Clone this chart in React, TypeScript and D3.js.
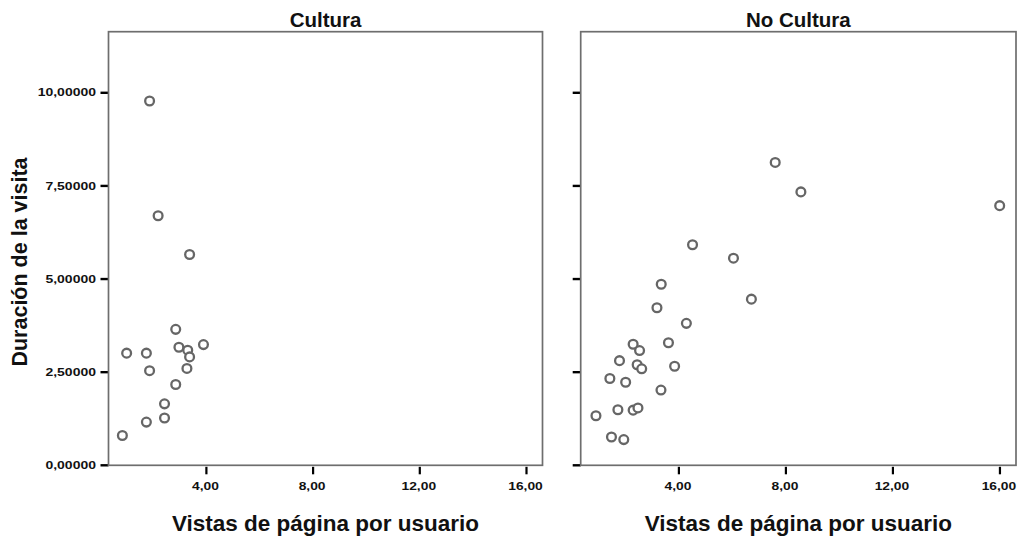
import React from "react";
import * as d3 from "d3";

// Page views per user (x) and visit duration (y) for each group
const culturaVistas = [1.87, 2.19, 3.37, 2.85, 1.01, 1.75, 1.87, 2.97, 3.30, 3.37, 3.89, 3.27, 2.85, 2.43, 2.43, 1.75, 0.85];
const culturaDuracion = [9.78, 6.70, 5.66, 3.65, 3.01, 3.01, 2.54, 3.17, 3.09, 2.91, 3.24, 2.60, 2.17, 1.65, 1.27, 1.16, 0.80];

const noCulturaVistas = [7.60, 8.56, 4.51, 6.04, 3.34, 6.71, 15.99, 3.18, 4.28, 3.61, 2.29, 2.53, 1.78, 2.44, 2.61, 3.84, 1.42, 2.01, 3.33, 1.72, 2.29, 2.47, 0.90, 1.48, 1.94];
const noCulturaDuracion = [8.13, 7.34, 5.92, 5.56, 4.86, 4.46, 6.97, 4.23, 3.81, 3.29, 3.25, 3.08, 2.81, 2.70, 2.59, 2.66, 2.33, 2.23, 2.02, 1.49, 1.48, 1.54, 1.33, 0.76, 0.69];

const xTicks = [4, 8, 12, 16];
const xTickLabels = ["4,00", "8,00", "12,00", "16,00"];
const yTicks = [0, 2.5, 5, 7.5, 10];
const yTickLabels = ["0,00000", "2,50000", "5,00000", "7,50000", "10,00000"];

const panelTitles = ["Cultura", "No Cultura"];
const xAxisTitle = "Vistas de página por usuario";
const yAxisTitle = "Duración de la visita";

const W = 1020;
const H = 538;
const top = 31.7;
const bottom = 465.3;
const panelRanges: [number, number][] = [
  [108.5, 542.5],
  [580.7, 1016],
];
const xDomain: [number, number] = [0.33, 16.6];
const yDomain: [number, number] = [0, 11.64];

const FONT = "Arial, 'Liberation Sans', sans-serif";
const frameColor = "#6e6e6e";
const markColor = "#666";

function Panel({
  index,
  xs,
  ys,
}: {
  index: number;
  xs: number[];
  ys: number[];
}) {
  const [x0, x1] = panelRanges[index];
  const x = d3.scaleLinear().domain(xDomain).range([x0, x1]);
  const y = d3.scaleLinear().domain(yDomain).range([bottom, top]);
  const showYLabels = index === 0;
  return (
    <g>
      <text
        x={(x0 + x1) / 2}
        y={27}
        textAnchor="middle"
        fontFamily={FONT}
        fontWeight="bold"
        fontSize={20.5}
        fill="#111"
      >
        {panelTitles[index]}
      </text>
      {/* y ticks */}
      {yTicks.map((t, i) => (
        <g key={"y" + i}>
          <line x1={x0 - 8} x2={x0} y1={y(t)} y2={y(t)} stroke="#000" strokeWidth={2.4} />
          {showYLabels && (
            <text
              transform={`translate(${x0 - 12.5},${y(t) + 3.6}) scale(1.4,1)`}
              textAnchor="end"
              fontFamily={FONT}
              fontWeight="bold"
              fontSize={10}
              fill="#111"
            >
              {yTickLabels[i]}
            </text>
          )}
        </g>
      ))}
      {/* x ticks */}
      {xTicks.map((t, i) => (
        <g key={"x" + i}>
          <line x1={x(t)} x2={x(t)} y1={bottom + 1.5} y2={bottom + 9} stroke="#000" strokeWidth={2.2} />
          <text
            transform={`translate(${x(t) - 1},${489.5}) scale(1.38,1)`}
            textAnchor="middle"
            fontFamily={FONT}
            fontWeight="bold"
            fontSize={10}
            fill="#111"
          >
            {xTickLabels[i]}
          </text>
        </g>
      ))}
      <rect
        x={x0}
        y={top}
        width={x1 - x0}
        height={bottom - top}
        fill="none"
        stroke={frameColor}
        strokeWidth={1.7}
      />
      {xs.map((v, i) => (
        <circle
          key={i}
          cx={x(v)}
          cy={y(ys[i])}
          r={4.4}
          fill="#fff"
          stroke={markColor}
          strokeWidth={2.3}
        />
      ))}
      <text
        x={(x0 + x1) / 2}
        y={531}
        textAnchor="middle"
        fontFamily={FONT}
        fontWeight="bold"
        fontSize={22.5}
        fill="#111"
      >
        {xAxisTitle}
      </text>
    </g>
  );
}

export default function App() {
  return (
    <svg
      width={W}
      height={H}
      style={{ position: "absolute", left: 0, top: 0, background: "#fff" }}
    >
      <rect width={W} height={H} fill="#fff" />
      <Panel index={0} xs={culturaVistas} ys={culturaDuracion} />
      <Panel index={1} xs={noCulturaVistas} ys={noCulturaDuracion} />
      <text
        transform={`translate(26.5,262) rotate(-90)`}
        textAnchor="middle"
        fontFamily={FONT}
        fontWeight="bold"
        fontSize={21.5}
        fill="#111"
      >
        {yAxisTitle}
      </text>
    </svg>
  );
}
